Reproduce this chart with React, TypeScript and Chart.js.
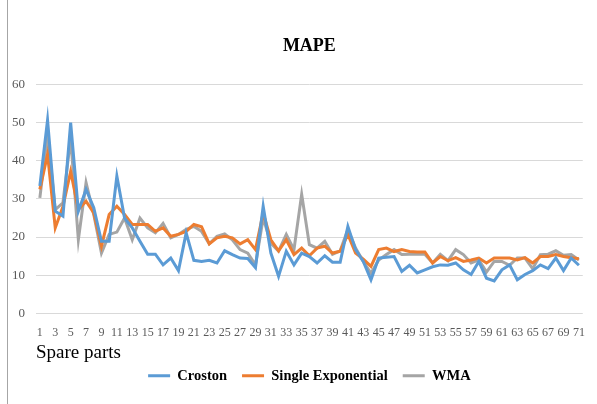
import React, { useEffect, useRef } from "react";
import { Chart, registerables } from "chart.js";

Chart.register(...registerables);

const categories: string[] = Array.from({ length: 71 }, (_, i) => String(i + 1));

const croston: number[] = [
  33.4, 50.7, 26.8, 25.5, 50.0, 26.8, 32.5, 27.7, 18.9, 18.9,
  36.0, 25.0, 22.4, 18.9, 15.5, 15.5, 12.7, 14.5, 11.2, 21.1,
  13.9, 13.6, 13.9, 13.2, 16.4, 15.4, 14.5, 14.4, 12.0, 28.1,
  15.8, 9.7, 16.3, 12.7, 15.8, 14.9, 13.2, 15.1, 13.4, 13.4,
  22.8, 16.7, 13.6, 8.8, 14.5, 14.7, 14.9, 11.0, 12.6, 10.6,
  11.4, 12.2, 12.7, 12.6, 13.2, 11.4, 10.2, 13.6, 9.2, 8.5,
  11.4, 12.7, 8.8, 10.2, 11.2, 12.7, 11.7, 14.5, 11.2, 14.5,
  12.6,
];

const singleExponential: number[] = [
  32.5, 41.7, 22.4, 28.0, 37.2, 27.2, 29.4, 26.3, 17.6, 25.9,
  28.1, 25.9, 23.3, 23.3, 23.3, 21.5, 22.4, 20.2, 20.7, 21.5,
  23.3, 22.7, 18.2, 19.8, 20.2, 19.8, 18.2, 19.3, 16.7, 26.3,
  19.3, 16.4, 19.3, 15.4, 17.1, 15.1, 17.1, 17.6, 15.8, 16.3,
  20.7, 15.8, 14.2, 12.3, 16.7, 17.1, 16.2, 16.7, 16.2, 16.1,
  16.1, 13.2, 14.9, 13.8, 14.6, 13.6, 14.0, 14.5, 13.2, 14.5,
  14.5, 14.5, 14.0, 14.6, 13.2, 14.9, 14.9, 15.4, 14.9, 14.6,
  14.3,
];

const wma: number[] = [
  30.3, 47.0, 27.2, 29.0, 46.0, 19.3, 34.3, 25.9, 15.8, 20.7,
  21.3, 25.0, 19.3, 25.0, 22.4, 21.1, 23.6, 19.8, 20.7, 22.0,
  22.8, 21.5, 18.2, 20.2, 20.8, 19.3, 16.7, 15.8, 12.7, 25.0,
  18.4, 16.3, 20.7, 16.7, 31.2, 18.0, 17.1, 18.9, 15.5, 16.4,
  22.0, 17.1, 13.6, 10.5, 14.0, 15.4, 16.7, 15.4, 15.5, 15.5,
  15.5, 13.2, 15.5, 13.8, 16.7, 15.4, 13.2, 14.0, 10.8, 13.6,
  13.6, 12.6, 14.5, 14.5, 11.7, 15.4, 15.5, 16.4, 15.2, 15.4,
  14.0,
];

const yTicks: number[] = [0, 10, 20, 30, 40, 50, 60];

const SERIF = "'Liberation Serif', 'Times New Roman', serif";

export default function App() {
  const canvasRef = useRef<HTMLCanvasElement | null>(null);

  useEffect(() => {
    if (!canvasRef.current) return;
    const mk = (label: string, data: number[], color: string) => ({
      label,
      data,
      borderColor: color,
      backgroundColor: color,
      borderWidth: 3,
      pointRadius: 0,
      pointHoverRadius: 0,
      tension: 0,
      fill: false,
    });
    const chart = new Chart(canvasRef.current, {
      type: "line",
      data: {
        labels: categories,
        datasets: [
          mk("Croston", croston, "#5B9BD5"),
          mk("Single Exponential", singleExponential, "#ED7D31"),
          mk("WMA", wma, "#A5A5A5"),
        ],
      },
      options: {
        animation: false,
        responsive: false,
        maintainAspectRatio: false,
        layout: { padding: { left: 1, right: 12, top: 0, bottom: 11 } },
        plugins: {
          title: {
            display: true,
            fullSize: false,
            text: "MAPE",
            color: "#000000",
            font: { family: SERIF, size: 18, weight: "bold" },
            padding: { top: 36, bottom: 27 },
          },
          legend: {
            position: "bottom",
            fullSize: false,
            maxHeight: 51.5,
            labels: {
              color: "#000000",
              font: { family: SERIF, size: 14.5, weight: "bold" },
              usePointStyle: true,
              pointStyle: "line",
              pointStyleWidth: 22,
              boxHeight: 14,
              padding: 15,
            },
          },
          tooltip: { enabled: false },
        },
        scales: {
          x: {
            type: "category",
            offset: true,
            grid: { display: false, drawTicks: false },
            border: { display: false },
            ticks: {
              autoSkip: false,
              maxRotation: 0,
              minRotation: 0,
              padding: 12,
              color: "#595959",
              font: { family: SERIF, size: 12 },
              callback: (_v: any, i: number) => (i % 2 === 0 ? categories[i] : ""),
            },
            title: {
              display: true,
              text: "Spare parts",
              align: "start",
              color: "#000000",
              font: { family: SERIF, size: 19 },
              padding: { top: -10, bottom: -11 },
            },
          },
          y: {
            min: 0,
            max: 60,
            grid: { color: "#D9D9D9", lineWidth: 1, drawTicks: false },
            border: { display: false },
            afterBuildTicks: (axis: any) => {
              axis.ticks = yTicks.map((v) => ({ value: v }));
            },
            ticks: {
              padding: 11,
              color: "#595959",
              font: { family: SERIF, size: 13 },
            },
          },
        },
      },
    });
    return () => chart.destroy();
  }, []);

  return (
    <div style={{ position: "fixed", left: 0, top: 0, width: 597, height: 404, background: "#ffffff" }}>
      <canvas ref={canvasRef} width={597} height={404} style={{ display: "block", width: 597, height: 404 }} />
      <div style={{ position: "absolute", left: 7, top: 0, width: 1, height: 404, background: "#A6A6A6" }} />
    </div>
  );
}
